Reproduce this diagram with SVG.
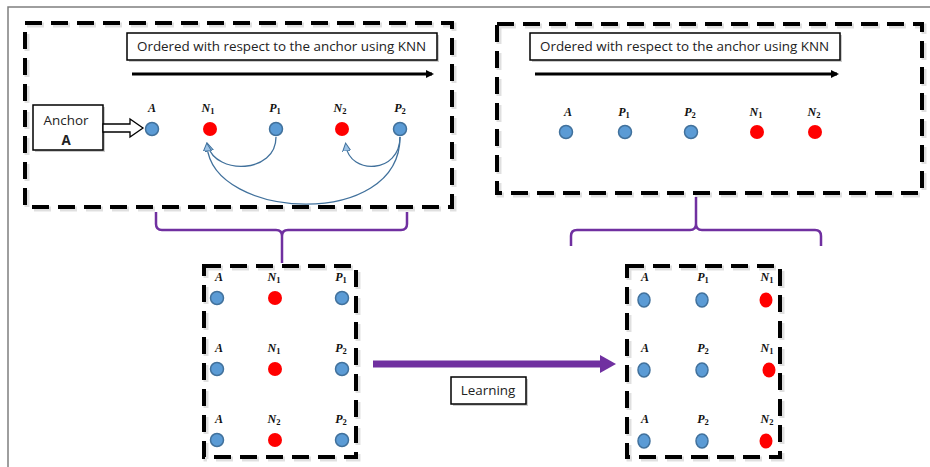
<svg xmlns="http://www.w3.org/2000/svg" width="930" height="467" viewBox="0 0 930 467">
  <style>
    .frame { fill: none; stroke: #7f7f7f; stroke-width: 1.5; }
    .dash { fill: none; stroke: #000; stroke-width: 4; stroke-dasharray: 17 9; }
    .dash-sh { fill: none; stroke: #000; stroke-opacity: 0.12; stroke-width: 5; stroke-dasharray: 17 9; }
    .box { fill: #fff; stroke: #000; stroke-width: 1.5; }
    .box-sh { fill: #000; fill-opacity: 0.2; }
    .txt { font-family: "Open Sans", "Liberation Sans", sans-serif; font-size: 13.4px; fill: #222; }
    .lbl { font-family: "Liberation Serif", "DejaVu Serif", serif; font-size: 12px; font-weight: bold; font-style: italic; fill: #111; text-anchor: middle; }
    .sub { font-size: 8.5px; font-style: normal; }
    .pos { fill: #5b9bd5; stroke: #41719c; stroke-width: 1.5; }
    .neg { fill: #ff0000; }
    .brace { fill: none; stroke: #7030a0; stroke-width: 2.5; stroke-linejoin: round; }
    .curve { fill: none; stroke: #41719c; stroke-width: 1.3; }
  </style>
  <defs>
    <marker id="blackHead" markerWidth="8" markerHeight="8" refX="6" refY="4" orient="auto" markerUnits="userSpaceOnUse">
      <path d="M0,0 L8,4 L0,8 Z" fill="#000"/>
    </marker>
    <marker id="blueHead" markerWidth="10" markerHeight="10" refX="5" refY="5" orient="auto" markerUnits="userSpaceOnUse">
      <path d="M0,1 L8,5 L0,9 Z" fill="#9dc3e6" stroke="#41719c" stroke-width="1"/>
    </marker>
  </defs>

  <!-- page frame -->
  <path class="frame" d="M8,467 V7 H930"/>

  <!-- top-left panel: triplets before ordering -->
  <g id="panel-left">
    <rect class="dash-sh" x="27" y="25" width="427" height="184"/>
    <rect class="dash" x="25" y="23" width="427" height="184"/>
    <rect class="box-sh" x="129" y="35" width="310" height="27"/>
    <rect class="box" x="127" y="33" width="310" height="27"/>
    <text class="txt" x="137" y="51">Ordered with respect to the anchor using KNN</text>
    <line x1="132" y1="74" x2="432" y2="74" stroke="#000" stroke-width="3" marker-end="url(#blackHead)"/>
  </g>

  <g id="anchor-box">
    <rect class="box-sh" x="35" y="107" width="70" height="45"/>
    <rect class="box" x="33" y="105" width="70" height="45"/>
    <text class="txt" x="66" y="125" text-anchor="middle">Anchor</text>
    <text class="txt" x="66" y="145" text-anchor="middle" font-weight="bold">A</text>
    <path d="M103,124 H130 V119 L143,128 L130,137 V132 H103 Z" fill="#fff" stroke="#000" stroke-width="1.3"/>
  </g>

  <g id="left-points">
    <text class="lbl" x="152" y="112">A</text>
    <text class="lbl" x="208" y="112">N<tspan class="sub" dy="2">1</tspan></text>
    <text class="lbl" x="275" y="112">P<tspan class="sub" dy="2">1</tspan></text>
    <text class="lbl" x="340" y="112">N<tspan class="sub" dy="2">2</tspan></text>
    <text class="lbl" x="400" y="112">P<tspan class="sub" dy="2">2</tspan></text>
    <circle class="pos" cx="152" cy="129" r="6.5"/>
    <circle class="neg" cx="210" cy="129" r="7"/>
    <circle class="pos" cx="276" cy="129" r="6.5"/>
    <circle class="neg" cx="342" cy="129" r="7"/>
    <circle class="pos" cx="400" cy="129" r="6.5"/>
  </g>

  <!-- swap arrows between positives and negatives -->
  <g id="connectors">
    <path class="curve" d="M276,137 C276,174 216,175 208,146" marker-end="url(#blueHead)"/>
    <path class="curve" d="M400,137 C400,174 350,175 346,146" marker-end="url(#blueHead)"/>
    <path class="curve" d="M400,137 C400,230 213,220 207,146" marker-end="url(#blueHead)"/>
    <!-- braces -->
    <path class="brace" d="M156,212 V224 Q156,230 162,230 H276 Q282,230 282,236 V263 M282,236 Q282,230 288,230 H401 Q407,230 407,224 V212"/>
    <path class="brace" d="M571,246 V236 Q571,230 577,230 H690 Q696,230 696,224 V197 M696,224 Q696,230 702,230 H815 Q821,230 821,236 V246"/>
    <!-- learning arrow -->
    <line x1="373" y1="364" x2="601" y2="364" stroke="#7030a0" stroke-width="7"/>
    <path d="M600,355 L616,364 L600,373 Z" fill="#7030a0"/>
  </g>

  <g id="learning-box">
    <rect class="box-sh" x="453" y="379" width="75" height="27"/>
    <rect class="box" x="451" y="377" width="75" height="27"/>
    <text class="txt" x="488" y="395" text-anchor="middle">Learning</text>
  </g>

  <!-- top-right panel: ordered sequence -->
  <g id="panel-right">
    <rect class="dash-sh" x="499" y="26" width="425" height="169"/>
    <rect class="dash" x="497" y="24" width="425" height="169"/>
    <rect class="box-sh" x="532" y="35" width="310" height="27"/>
    <rect class="box" x="530" y="33" width="310" height="27"/>
    <text class="txt" x="540" y="51">Ordered with respect to the anchor using KNN</text>
    <line x1="535" y1="74" x2="837" y2="74" stroke="#000" stroke-width="3" marker-end="url(#blackHead)"/>
    <text class="lbl" x="568" y="116">A</text>
    <text class="lbl" x="624" y="116">P<tspan class="sub" dy="2">1</tspan></text>
    <text class="lbl" x="690" y="116">P<tspan class="sub" dy="2">2</tspan></text>
    <text class="lbl" x="756" y="116">N<tspan class="sub" dy="2">1</tspan></text>
    <text class="lbl" x="814" y="116">N<tspan class="sub" dy="2">2</tspan></text>
    <circle class="pos" cx="566" cy="132" r="6.5"/>
    <circle class="pos" cx="625" cy="132" r="6.5"/>
    <circle class="pos" cx="691" cy="132" r="6.5"/>
    <circle class="neg" cx="757" cy="132" r="7"/>
    <circle class="neg" cx="815" cy="132" r="7"/>
  </g>

  <!-- bottom-left triplets -->
  <g id="triplets-left">
    <rect class="dash-sh" x="206" y="268" width="152" height="191"/>
    <rect class="dash" x="204" y="266" width="152" height="191"/>
    <text class="lbl" x="219" y="281">A</text>
    <text class="lbl" x="274" y="281">N<tspan class="sub" dy="2">1</tspan></text>
    <text class="lbl" x="341" y="281">P<tspan class="sub" dy="2">1</tspan></text>
    <circle class="pos" cx="217" cy="298" r="6.5"/>
    <circle class="neg" cx="275" cy="298" r="7"/>
    <circle class="pos" cx="342" cy="298" r="6.5"/>
    <text class="lbl" x="219" y="352">A</text>
    <text class="lbl" x="274" y="352">N<tspan class="sub" dy="2">1</tspan></text>
    <text class="lbl" x="341" y="352">P<tspan class="sub" dy="2">2</tspan></text>
    <circle class="pos" cx="217" cy="369" r="6.5"/>
    <circle class="neg" cx="275" cy="369" r="7"/>
    <circle class="pos" cx="342" cy="369" r="6.5"/>
    <text class="lbl" x="219" y="423">A</text>
    <text class="lbl" x="274" y="423">N<tspan class="sub" dy="2">2</tspan></text>
    <text class="lbl" x="341" y="423">P<tspan class="sub" dy="2">2</tspan></text>
    <circle class="pos" cx="217" cy="440" r="6.5"/>
    <circle class="neg" cx="275" cy="440" r="7"/>
    <circle class="pos" cx="342" cy="440" r="6.5"/>
  </g>

  <!-- bottom-right triplets -->
  <g id="triplets-right">
    <rect class="dash-sh" x="629" y="268" width="153" height="191"/>
    <rect class="dash" x="627" y="266" width="153" height="191"/>
    <text class="lbl" x="645" y="281">A</text>
    <text class="lbl" x="703" y="281">P<tspan class="sub" dy="2">1</tspan></text>
    <text class="lbl" x="767" y="281">N<tspan class="sub" dy="2">1</tspan></text>
    <ellipse class="pos" cx="644" cy="300" rx="6" ry="7"/>
    <ellipse class="pos" cx="702" cy="300" rx="6" ry="7"/>
    <ellipse class="neg" cx="766" cy="300" rx="6.5" ry="7.5"/>
    <text class="lbl" x="645" y="352">A</text>
    <text class="lbl" x="703" y="352">P<tspan class="sub" dy="2">2</tspan></text>
    <text class="lbl" x="767" y="352">N<tspan class="sub" dy="2">1</tspan></text>
    <ellipse class="pos" cx="644" cy="370" rx="6" ry="7"/>
    <ellipse class="pos" cx="702" cy="370" rx="6" ry="7"/>
    <ellipse class="neg" cx="769" cy="370" rx="6.5" ry="7.5"/>
    <text class="lbl" x="645" y="423">A</text>
    <text class="lbl" x="703" y="423">P<tspan class="sub" dy="2">2</tspan></text>
    <text class="lbl" x="767" y="423">N<tspan class="sub" dy="2">2</tspan></text>
    <ellipse class="pos" cx="644" cy="441" rx="6" ry="7"/>
    <ellipse class="pos" cx="702" cy="441" rx="6" ry="7"/>
    <ellipse class="neg" cx="766" cy="441" rx="6.5" ry="7.5"/>
  </g>
</svg>
